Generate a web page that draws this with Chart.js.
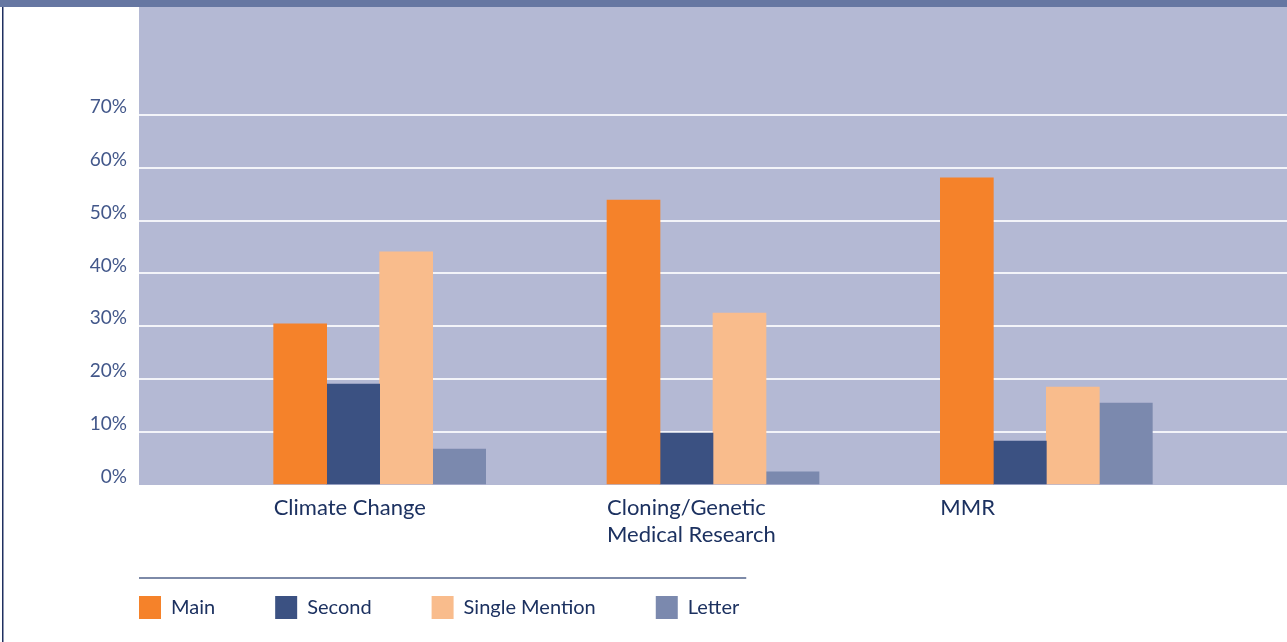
<!DOCTYPE html>
<html>
<head>
<meta charset="utf-8">
<script src="https://cdn.jsdelivr.net/npm/chart.js@4/dist/chart.umd.min.js"></script>
<style>
  html, body { margin: 0; padding: 0; background: #ffffff; }
  #wrap { width: 1287px; height: 642px; position: relative; }
</style>
</head>
<body>
<div id="wrap"><canvas id="grafico"></canvas></div>
<script>
// Datos del gráfico
var categorias = [['Climate Change'], ['Cloning/Genetic', 'Medical Research'], ['MMR']];
var series = ['Main', 'Second', 'Single Mention', 'Letter'];
var main = [30.5, 53.9, 58.1];
var second = [19.1, 9.8, 8.3];
var singleMention = [44.1, 32.5, 18.5];
var letter = [6.8, 2.5, 15.5];
var colores = ['#f5822a', '#3b5182', '#f9bc8c', '#7b89ae'];
var ticksY = [0, 10, 20, 30, 40, 50, 60, 70];

var valores = [main, second, singleMention, letter];

// fondo del área del gráfico, barra superior y línea del lado izquierdo
var decoracion = {
    id: 'decoracion',
    afterLayout: function (chart) {
        // subir la leyenda para que las cajas queden bajo la línea
        var lg = chart.legend;
        var alto = lg.bottom - lg.top;
        lg.top = 596 - lg.options.labels.padding;
        lg.bottom = lg.top + alto;
    },
    beforeDraw: function (chart) {
        var c = chart.ctx, a = chart.chartArea;
        c.save();
        c.fillStyle = '#b4b9d4';
        c.fillRect(a.left, a.top, a.right - a.left, a.bottom - a.top);
        c.restore();
    },
    afterDraw: function (chart) {
        var c = chart.ctx;
        c.save();
        c.fillStyle = '#6677a2';
        c.fillRect(0, 0, chart.width, 7);
        c.fillStyle = '#1f2f60';
        c.fillRect(2, 7, 1.5, chart.height - 7);
        // línea sobre la leyenda
        var cajas = chart.legend.legendHitBoxes;
        if (cajas && cajas.length) {
            var ultima = cajas[cajas.length - 1];
            c.strokeStyle = '#7d8aa8';
            c.lineWidth = 2;
            c.beginPath();
            c.moveTo(chart.chartArea.left, cajas[0].top - 18);
            c.lineTo(ultima.left + ultima.width + 7, cajas[0].top - 18);
            c.stroke();
        }
        c.restore();
    }
};

var ctx = document.getElementById('grafico').getContext('2d');
var chart = new Chart(ctx, {
    type: 'bar',
    data: {
        datasets: series.map(function (nombre, k) {
            return {
                label: nombre,
                backgroundColor: colores[k],
                borderWidth: 0,
                barThickness: 53,
                data: valores[k].map(function (v, i) { return { x: i, y: v }; })
            };
        })
    },
    options: {
        responsive: true,
        maintainAspectRatio: false,
        animation: false,
        layout: { padding: { left: 79, top: 7, right: 0, bottom: 0 } },
        scales: {
            x: {
                type: 'linear',
                min: -0.722,
                max: 2.722,
                offset: false,
                grid: { display: false },
                border: { display: false },
                afterFit: function (scale) {
                    scale.height = 64;
                    scale.paddingLeft = 0;
                    scale.paddingRight = 0;
                },
                ticks: {
                    stepSize: 1,
                    autoSkip: false,
                    maxRotation: 0,
                    align: 'start',
                    labelOffset: -106,
                    padding: 1,
                    color: '#1c3160',
                    font: { family: 'Lato', size: 22, lineHeight: 1.23 },
                    callback: function (v) {
                        return Number.isInteger(v) && categorias[v] ? categorias[v] : '';
                    }
                }
            },
            y: {
                min: 0,
                max: 90.4,
                grid: {
                    drawTicks: false,
                    lineWidth: 2,
                    color: function (c) {
                        var v = c.tick ? c.tick.value : 0;
                        return (v > 0 && v <= 70) ? '#f3f4f9' : 'rgba(0,0,0,0)';
                    }
                },
                border: { display: false },
                afterFit: function (scale) {
                    scale.width = 60;
                    scale.paddingTop = 0;
                    scale.paddingBottom = 0;
                },
                ticks: {
                    stepSize: 10,
                    padding: 12,
                    labelOffset: -8,
                    color: '#42578a',
                    font: { family: 'Lato', size: 19 },
                    callback: function (v) {
                        return ticksY.indexOf(v) >= 0 ? v + '%' : '';
                    }
                }
            }
        },
        plugins: {
            legend: {
                display: true,
                position: 'bottom',
                align: 'start',
                labels: {
                    boxWidth: 22,
                    boxHeight: 23,
                    padding: 60,
                    color: '#1c3160',
                    font: { family: 'Lato', size: 20 }
                }
            },
            title: { display: false },
            tooltip: { enabled: false }
        }
    },
    plugins: [decoracion]
});
</script>
</body>
</html>
